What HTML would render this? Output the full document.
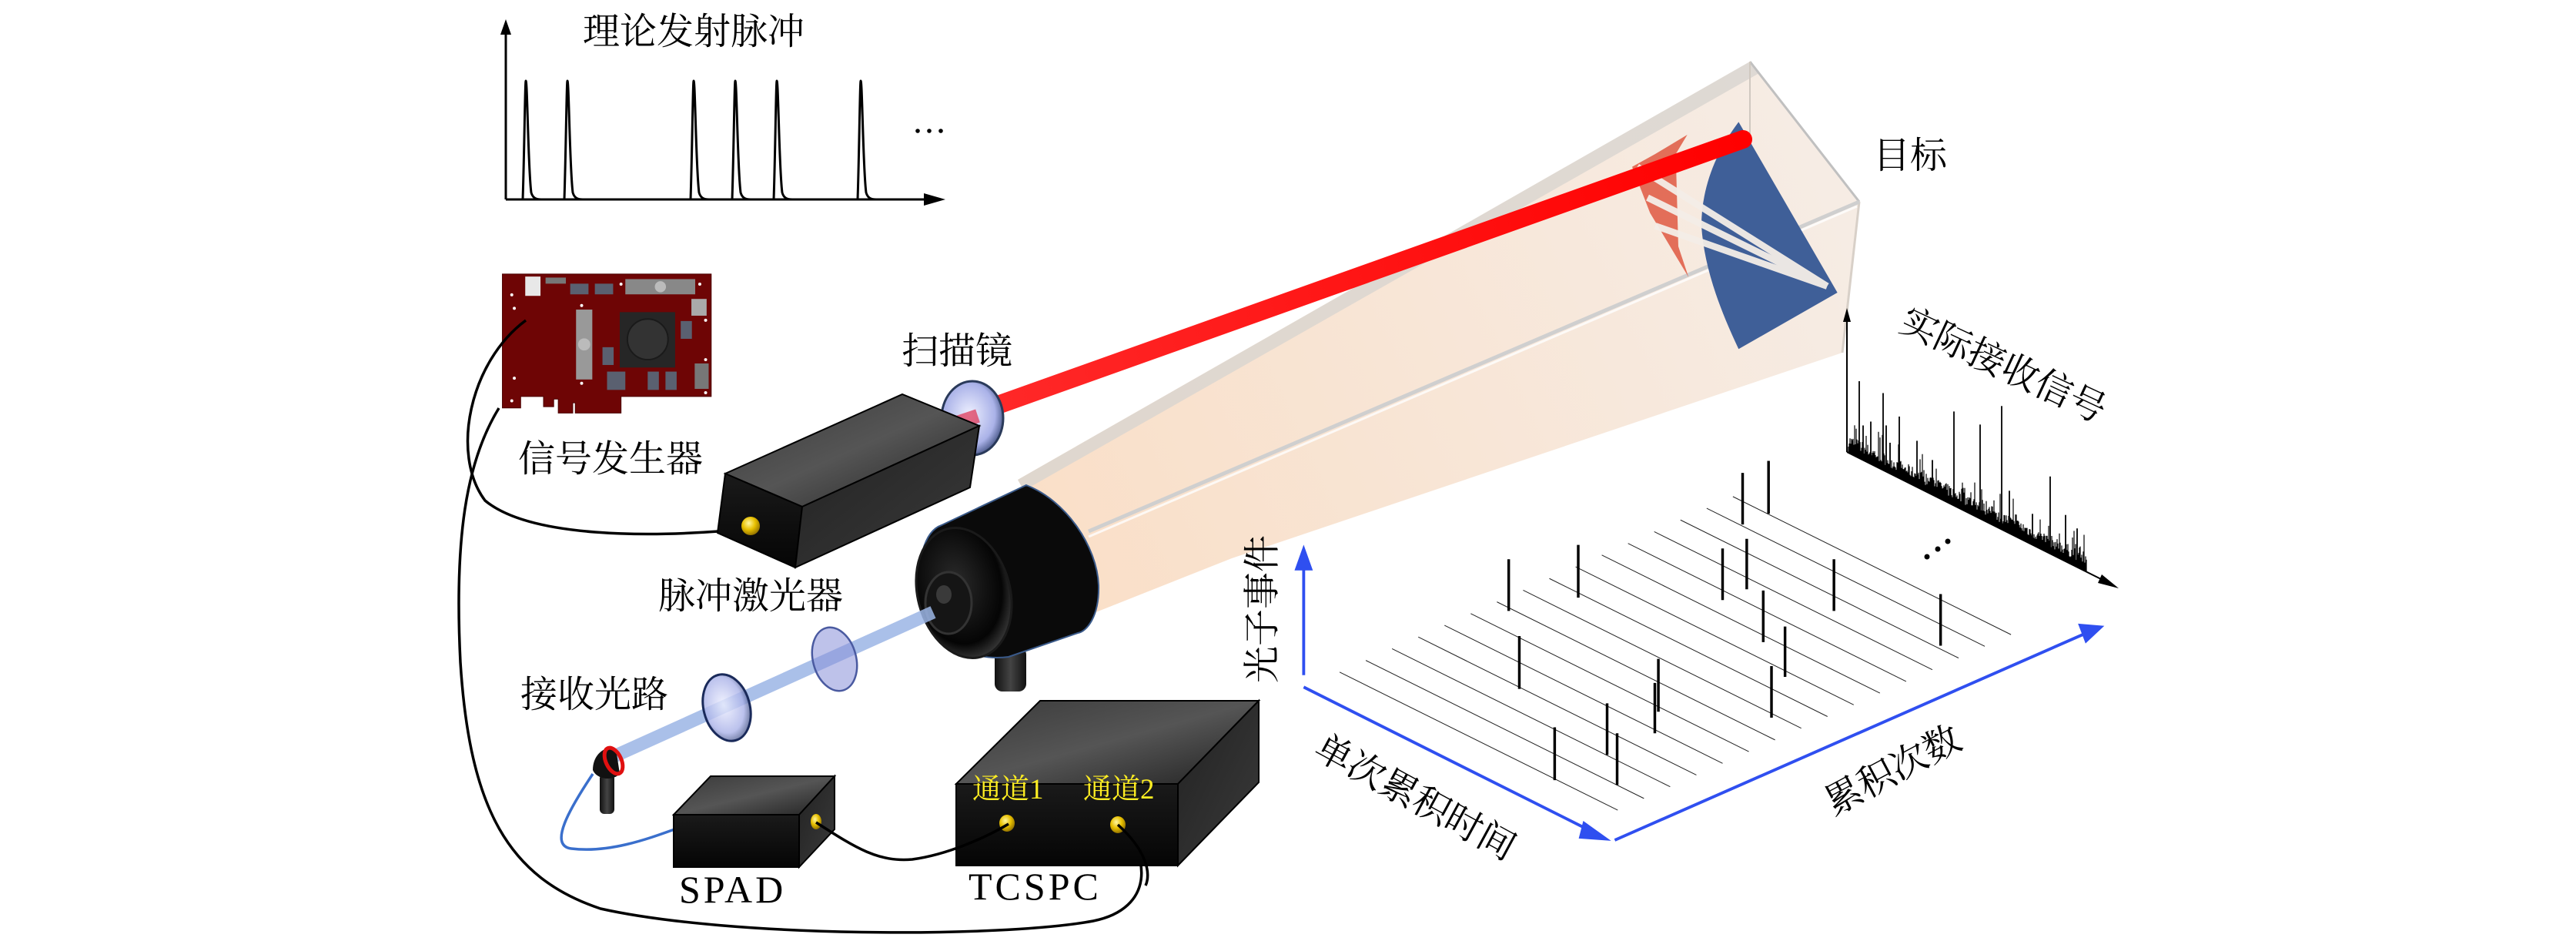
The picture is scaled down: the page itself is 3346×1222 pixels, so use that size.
<!DOCTYPE html>
<html><head><meta charset="utf-8">
<style>
html,body{margin:0;padding:0;background:#fff;}
svg{display:block;}
text{font-family:"Liberation Serif","Noto Serif CJK SC","Noto Sans CJK SC",serif;}
</style></head>
<body>
<svg id="s" xmlns="http://www.w3.org/2000/svg" width="3346" height="1222" viewBox="0 0 3346 1222">
<defs>
<linearGradient id="cone" x1="1320" y1="700" x2="2400" y2="200" gradientUnits="userSpaceOnUse">
<stop offset="0" stop-color="#f9d9bd" stop-opacity="0.85"/>
<stop offset="1" stop-color="#f3e6dc" stop-opacity="0.75"/>
</linearGradient>
<linearGradient id="redb" x1="1250" y1="540" x2="2266" y2="181" gradientUnits="userSpaceOnUse">
<stop offset="0" stop-color="#ff2a2a"/><stop offset="1" stop-color="#ff0000"/>
</linearGradient>
<linearGradient id="boxtop" x1="0" y1="0" x2="1" y2="1">
<stop offset="0" stop-color="#3a3a3a"/><stop offset="0.5" stop-color="#555"/><stop offset="1" stop-color="#222"/>
</linearGradient>
<linearGradient id="boxfront" x1="0" y1="0" x2="0" y2="1">
<stop offset="0" stop-color="#1a1a1a"/><stop offset="1" stop-color="#050505"/>
</linearGradient>
<linearGradient id="boxside" x1="0" y1="0" x2="1" y2="1">
<stop offset="0" stop-color="#222"/><stop offset="1" stop-color="#3a3a3a"/>
</linearGradient>
<radialGradient id="gold" cx="0.4" cy="0.35" r="0.7">
<stop offset="0" stop-color="#fff6a0"/><stop offset="0.5" stop-color="#e8c000"/><stop offset="1" stop-color="#8a6a00"/>
</radialGradient>
<radialGradient id="lens" cx="0.45" cy="0.45" r="0.6">
<stop offset="0" stop-color="#eef0ff"/><stop offset="0.7" stop-color="#aab2e8"/><stop offset="1" stop-color="#3a4a7a"/>
</radialGradient>
<radialGradient id="dome" cx="0.45" cy="0.4" r="0.6">
<stop offset="0" stop-color="#2a2a2a"/><stop offset="0.8" stop-color="#050505"/><stop offset="1" stop-color="#333"/>
</radialGradient>
<linearGradient id="stand" x1="0" y1="0" x2="1" y2="0">
<stop offset="0" stop-color="#111"/><stop offset="0.5" stop-color="#444"/><stop offset="1" stop-color="#111"/>
</linearGradient>
</defs>

<!-- ===== Top pulse plot ===== -->
<text x="757" y="57" font-size="48">理论发射脉冲</text>
<g fill="none" stroke="#000" stroke-width="3">
<line x1="657" y1="259" x2="657" y2="42"/>
<line x1="657" y1="259" x2="1205" y2="259"/>
</g>
<path d="M650,45 L657,25 L664,45 Z" fill="#000"/>
<path d="M1200,251 L1228,259 L1200,267 Z" fill="#000"/>
<g fill="none" stroke="#000" stroke-width="3">
<path d="M679,259 C681,200 682,105 683,105 C685,105 686,220 690,250 C692,257 696,259 703,259"/>
<path d="M733,259 C735,200 736,105 737,105 C739,105 740,220 744,250 C746,257 750,259 757,259"/>
<path d="M897,259 C899,200 900,105 901,105 C903,105 904,220 908,250 C910,257 914,259 921,259"/>
<path d="M951,259 C953,200 954,105 955,105 C957,105 958,220 962,250 C964,257 968,259 975,259"/>
<path d="M1005,259 C1007,200 1008,105 1009,105 C1011,105 1012,220 1016,250 C1018,257 1022,259 1029,259"/>
<path d="M1114,259 C1116,200 1117,105 1118,105 C1120,105 1121,220 1125,250 C1127,257 1131,259 1138,259"/>
</g>
<g fill="#000"><circle cx="1192" cy="170" r="2.8"/><circle cx="1207" cy="170" r="2.8"/><circle cx="1222" cy="170" r="2.8"/></g>

<!-- ===== Beam cone ===== -->
<polygon points="1322,623 2273,80 2415,262 2393,458 1600,725 1421,796" fill="url(#cone)"/>
<polygon points="1322,623 2273,80 2285,95 1330,637" fill="#d8d4d0" opacity="0.8"/>
<line x1="2273" y1="80" x2="2415" y2="262" stroke="#c0c0c0" stroke-width="3"/>
<line x1="2415" y1="262" x2="2393" y2="458" stroke="#d8d0c8" stroke-width="3"/>
<line x1="2273" y1="80" x2="2273" y2="277" stroke="#d0c8c0" stroke-width="2"/>
<line x1="2415" y1="262" x2="1414" y2="690" stroke="#cfcfcf" stroke-width="5"/>
<line x1="2412" y1="268" x2="1414" y2="697" stroke="#fff" stroke-width="3" opacity="0.8"/>

<!-- target -->
<g transform="translate(2100,60) scale(0.3333)">
<path d="M475,295 L860,960 L475,1180 C390,1000 340,850 330,700 C330,560 380,420 475,295 Z" fill="#3f5f98"/>
<path d="M275,345 L230,420 L240,780 L280,900 L130,650 L60,470 L150,420 Z" fill="#e0604a" opacity="0.9"/>
<g stroke="#f4eee8" stroke-width="26" fill="none" opacity="0.95">
<path d="M80,470 L820,935"/>
<path d="M120,590 L820,935"/>
<path d="M150,700 L820,935"/>
</g>
</g>
<!-- red beam -->
<line x1="1251" y1="542" x2="2264" y2="181" stroke="url(#redb)" stroke-width="24" stroke-linecap="round"/>

<!-- ===== Board ===== -->
<g transform="translate(640,340) scale(0.33)">
<path d="M38,48 H860 V530 H505 V595 H325 V555 H315 V595 H258 V540 H240 V570 H200 V530 H110 V575 H38 Z" fill="#6e0505" stroke="#4a0000" stroke-width="3"/>
<rect x="128" y="58" width="60" height="76" fill="#e8e8e8"/>
<rect x="208" y="62" width="80" height="24" fill="#777"/>
<rect x="305" y="86" width="72" height="42" fill="#5a6070"/>
<rect x="402" y="86" width="72" height="42" fill="#5a6070"/>
<rect x="522" y="68" width="275" height="60" fill="#888"/>
<circle cx="660" cy="98" r="22" fill="#bbb"/>
<rect x="328" y="188" width="64" height="275" fill="#999"/>
<circle cx="360" cy="325" r="24" fill="#bbb"/>
<rect x="500" y="198" width="218" height="218" fill="#262626"/>
<circle cx="610" cy="305" r="80" fill="#333" stroke="#1a1a1a" stroke-width="6"/>
<rect x="432" y="336" width="44" height="70" fill="#5a6070"/>
<rect x="740" y="233" width="44" height="70" fill="#5a6070"/>
<rect x="782" y="146" width="60" height="66" fill="#aaa"/>
<rect x="450" y="432" width="72" height="72" fill="#5a6070"/>
<rect x="610" y="432" width="44" height="72" fill="#5a6070"/>
<rect x="680" y="432" width="44" height="72" fill="#5a6070"/>
<rect x="795" y="400" width="55" height="100" fill="#777"/>
<g fill="#fff"><circle cx="75" cy="130" r="6"/><circle cx="85" cy="183" r="6"/><circle cx="85" cy="458" r="6"/><circle cx="75" cy="547" r="6"/><circle cx="350" cy="172" r="6"/><circle cx="350" cy="478" r="6"/><circle cx="505" cy="88" r="6"/><circle cx="815" cy="88" r="6"/><circle cx="838" cy="230" r="6"/><circle cx="838" cy="385" r="6"/><circle cx="838" cy="515" r="6"/></g>
</g>
<text x="673" y="612" font-size="48">信号发生器</text>

<!-- cables -->
<g fill="none" stroke="#000" stroke-width="3.5">
<path d="M683,416 C610,470 585,590 630,650 C690,700 850,696 933,690"/>
<path d="M648,530 C605,600 590,700 598,860 C610,1050 660,1140 780,1180 C950,1218 1300,1218 1420,1196 C1500,1180 1495,1110 1452,1071"/>
</g>
<path d="M770,1005 C740,1050 712,1098 742,1102 C790,1108 840,1090 876,1077" fill="none" stroke="#3a6fcc" stroke-width="3.5"/>

<!-- scan mirror -->
<ellipse cx="1263" cy="543" rx="40" ry="48" fill="url(#lens)" stroke="#2a3a5a" stroke-width="3"/>
<line x1="1240" y1="550" x2="1270" y2="540" stroke="#e03050" stroke-width="18" opacity="0.7"/>

<!-- laser box -->
<polygon points="942,615 1172,512 1272,553 1042,658" fill="url(#boxtop)" stroke="#000" stroke-width="2"/>
<polygon points="942,615 1042,658 1033,737 932,692" fill="url(#boxfront)" stroke="#000" stroke-width="2"/>
<polygon points="1042,658 1272,553 1260,633 1033,737" fill="url(#boxside)" stroke="#000" stroke-width="2"/>
<circle cx="975" cy="683" r="12" fill="url(#gold)"/>
<text x="1171" y="472" font-size="48">扫描镜</text>
<text x="855" y="790" font-size="48">脉冲激光器</text>

<!-- telescope -->
<rect x="1292" y="840" width="41" height="58" rx="10" fill="url(#stand)"/>
<path d="M1223,682 L1333,630 C1385,650 1425,710 1427,760 C1428,800 1412,820 1400,822 L1310,853 C1260,860 1200,830 1195,780 C1190,730 1200,690 1223,682 Z" fill="#0a0a0a" stroke="#3a5a8a" stroke-width="2"/>
<ellipse cx="1252" cy="770" rx="60" ry="86" transform="rotate(-15 1252 770)" fill="url(#dome)" stroke="#1a1a1a" stroke-width="3"/>
<ellipse cx="1232" cy="783" rx="30" ry="40" fill="#151515" stroke="#333" stroke-width="3"/>
<ellipse cx="1226" cy="772" rx="10" ry="12" fill="#3a3a3a"/>

<!-- receive path -->
<line x1="1212" y1="795" x2="789" y2="986" stroke="#9cb6e6" stroke-width="17" opacity="0.85"/>
<ellipse cx="1084" cy="856" rx="28" ry="42" transform="rotate(-15 1084 856)" fill="#8890d8" fill-opacity="0.55" stroke="#4a5aa0" stroke-width="2.5"/>
<ellipse cx="944" cy="919" rx="30" ry="44" transform="rotate(-15 944 919)" fill="url(#lens)" fill-opacity="0.8" stroke="#1a2a5a" stroke-width="3"/>
<rect x="779" y="1005" width="19" height="52" rx="6" fill="url(#stand)"/>
<path d="M770,1000 C770,980 785,968 800,972 L805,1005 C795,1015 775,1012 770,1000 Z" fill="#111"/>
<ellipse cx="797" cy="988" rx="10" ry="18" transform="rotate(-25 797 988)" fill="none" stroke="#e01010" stroke-width="5"/>
<text x="676" y="918" font-size="48">接收光路</text>

<!-- SPAD -->
<polygon points="875,1058 923,1008 1084,1008 1038,1058" fill="url(#boxtop)" stroke="#000" stroke-width="2"/>
<polygon points="875,1058 1038,1058 1038,1126 875,1126" fill="url(#boxfront)" stroke="#000" stroke-width="2"/>
<polygon points="1038,1058 1084,1008 1084,1077 1038,1126" fill="url(#boxside)" stroke="#000" stroke-width="2"/>
<ellipse cx="1060" cy="1067" rx="7" ry="10" fill="url(#gold)"/>
<text x="882" y="1172" font-size="50" letter-spacing="4">SPAD</text>

<!-- TCSPC -->
<polygon points="1242,1018 1351,910 1635,910 1530,1018" fill="url(#boxtop)" stroke="#000" stroke-width="2"/>
<polygon points="1242,1018 1530,1018 1530,1124 1242,1124" fill="url(#boxfront)" stroke="#000" stroke-width="2"/>
<polygon points="1530,1018 1635,910 1635,1016 1530,1124" fill="url(#boxside)" stroke="#000" stroke-width="2"/>
<ellipse cx="1308" cy="1069" rx="10" ry="11" fill="url(#gold)"/>
<ellipse cx="1452" cy="1071" rx="10" ry="11" fill="url(#gold)"/>
<text x="1263" y="1037" font-size="37" fill="#ffee22">通道1</text>
<text x="1407" y="1037" font-size="37" fill="#ffee22">通道2</text>
<text x="1258" y="1168" font-size="50" letter-spacing="4">TCSPC</text>
<path d="M1060,1068 C1110,1100 1140,1120 1185,1116 C1230,1110 1280,1088 1310,1070" fill="none" stroke="#000" stroke-width="3.5"/>
<path d="M1452,1071 C1490,1105 1495,1135 1488,1150" fill="none" stroke="#000" stroke-width="3.5"/>

<!-- labels right -->
<text x="2433" y="218" font-size="48">目标</text>
<text transform="translate(2602,475) rotate(25)" text-anchor="middle" dominant-baseline="central" font-size="48">实际接收信号</text>
<text transform="translate(1640,791) rotate(-90)" text-anchor="middle" dominant-baseline="central" font-size="48">光子事件</text>
<text transform="translate(1838,1036) rotate(28.5)" text-anchor="middle" dominant-baseline="central" font-size="48">单次累积时间</text>
<text transform="translate(2459,1001) rotate(-28)" text-anchor="middle" dominant-baseline="central" font-size="48">累积次数</text>

<!-- received signal -->
<g id="sig" stroke="#000" fill="none"></g>
<line x1="2399" y1="587" x2="2399" y2="412" stroke="#000" stroke-width="2"/>
<path d="M2394,418 L2399,400 L2404,418 Z" fill="#000"/>
<line x1="2399" y1="587" x2="2745" y2="760" stroke="#000" stroke-width="2"/>
<path d="M2730,746 L2752,764 L2725,757 Z" fill="#000"/>
<g fill="#000"><circle cx="2503" cy="723" r="3.5"/><circle cx="2517" cy="713" r="3.5"/><circle cx="2530" cy="703" r="3.5"/></g>

<!-- 3D histogram -->
<g transform="translate(1600,0) scale(0.7653,0.7793)">
<g id="gl" stroke="#222" stroke-width="1.3"></g>
<g stroke="#000" stroke-width="4.5">
<line x1="470" y1="932" x2="470" y2="1018"/>
<line x1="588" y1="908" x2="588" y2="996"/>
<line x1="488" y1="1060" x2="488" y2="1148"/>
<line x1="548" y1="1212" x2="548" y2="1300"/>
<line x1="637" y1="1172" x2="637" y2="1258"/>
<line x1="654" y1="1222" x2="654" y2="1308"/>
<line x1="718" y1="1138" x2="718" y2="1222"/>
<line x1="724" y1="1098" x2="724" y2="1186"/>
<line x1="833" y1="914" x2="833" y2="1000"/>
<line x1="874" y1="898" x2="874" y2="982"/>
<line x1="867" y1="788" x2="867" y2="874"/>
<line x1="911" y1="768" x2="911" y2="856"/>
<line x1="902" y1="984" x2="902" y2="1070"/>
<line x1="939" y1="1044" x2="939" y2="1128"/>
<line x1="916" y1="1110" x2="916" y2="1196"/>
<line x1="1022" y1="932" x2="1022" y2="1018"/>
<line x1="1203" y1="990" x2="1203" y2="1076"/>
</g>
<g stroke="#2f4ff0" stroke-width="5" fill="#2f4ff0">
<line x1="122" y1="1125" x2="122" y2="945"/>
<path d="M110,948 L122,915 L134,948 Z"/>
<line x1="122" y1="1145" x2="610" y2="1385"/>
<path d="M598,1372 L635,1398 L592,1395 Z"/>
<line x1="650" y1="1400" x2="1450" y2="1055"/>
<path d="M1440,1042 L1475,1045 L1450,1068 Z"/>
</g>
</g>
<script>
(function(){
var NS="http://www.w3.org/2000/svg";
var gl=document.getElementById("gl");
for(var i=0;i<16;i++){
 var x=183+i*44.5,y=1120-i*19.5;
 var l=document.createElementNS(NS,"line");
 l.setAttribute("x1",x);l.setAttribute("y1",y);l.setAttribute("x2",x+472);l.setAttribute("y2",y+230);
 gl.appendChild(l);
}
var g=document.getElementById("sig");
var seed=7;function r(){seed=(seed*16807)%2147483647;return seed/2147483647;}
var big={2415:100,2446:100,2467:80,2490:60,2538:122,2572:122,2600:160,2663:100,2683:60,2698:50,2430:55,2450:60,2420:45,2455:40,2510:45,2610:55,2640:40};
for(var x=2401;x<=2710;x+=1.0){
 var by=587+(x-2399)*0.499;
 var h=8+r()*16; if(r()<0.18)h+=r()*30;
 var p=document.createElementNS(NS,"line");
 p.setAttribute("x1",x.toFixed(1));p.setAttribute("x2",x.toFixed(1));
 p.setAttribute("y1",by.toFixed(1));p.setAttribute("y2",(by-h).toFixed(1));
 p.setAttribute("stroke-width","1.2");g.appendChild(p);
}
for(var k in big){var x=+k;var by=587+(x-2399)*0.499;
 var p=document.createElementNS(NS,"line");
 p.setAttribute("x1",x);p.setAttribute("x2",x);p.setAttribute("y1",by);p.setAttribute("y2",by-big[k]);
 p.setAttribute("stroke-width","1.8");g.appendChild(p);}
})();
</script>
</svg>
</body></html>
